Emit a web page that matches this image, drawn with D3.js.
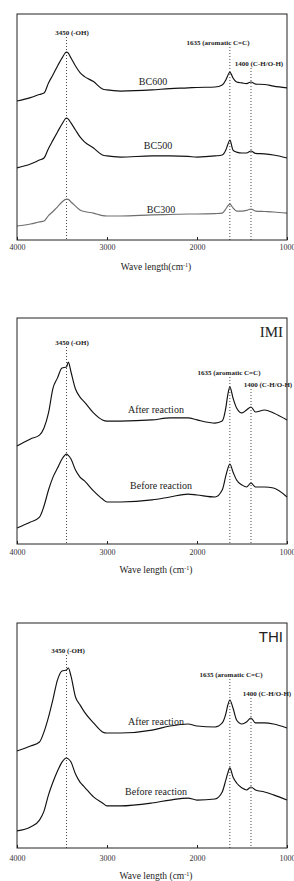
<!DOCTYPE html>
<html>
<head>
<meta charset="utf-8">
<script src="https://cdn.jsdelivr.net/npm/d3@7"></script>
<style>
  body { margin: 0; background: #fff; }
  svg { display: block; }
</style>
</head>
<body>
<div id="chart"></div>
<script>
// Data (relative intensity, a.u.)
const wavenumbers = [4000, 3850, 3750, 3700, 3650, 3600, 3550, 3500, 3450, 3430, 3400, 3350, 3300, 3250, 3150, 3050, 3000, 2850, 2500, 2300, 2100, 2000, 1800, 1720, 1680, 1660, 1635, 1600, 1560, 1500, 1450, 1400, 1350, 1250, 1150, 1000];

const bc600 = [61.5, 63.0, 64.4, 65.0, 69.5, 73.1, 77.0, 80.5, 83.2, 82.7, 80.5, 77.0, 74.1, 72.3, 70.1, 66.8, 66.4, 65.9, 66.4, 67.0, 67.3, 67.5, 67.7, 68.6, 70.8, 72.6, 74.3, 71.7, 69.9, 69.5, 69.2, 69.9, 69.0, 68.8, 68.1, 67.3];
const bc500 = [31.9, 33.6, 35.4, 36.3, 40.5, 44.2, 47.8, 51.3, 54.0, 53.5, 51.8, 48.7, 45.6, 43.4, 40.7, 37.6, 37.2, 36.7, 37.2, 37.2, 37.0, 36.7, 37.2, 37.6, 39.8, 42.0, 44.2, 39.8, 38.9, 38.5, 38.5, 39.4, 38.3, 38.1, 37.6, 36.3];
const bc300 = [6.2, 7.1, 8.0, 8.4, 10.8, 12.6, 14.7, 16.8, 18.1, 18.0, 16.8, 15.0, 13.3, 12.6, 11.9, 10.8, 10.6, 10.6, 11.1, 11.3, 11.5, 11.5, 11.7, 11.9, 13.7, 15.0, 15.9, 14.2, 12.8, 12.8, 13.1, 13.7, 12.8, 12.6, 12.4, 11.9];

const imiAfter  = [43.4, 46.5, 48.2, 51.3, 58.0, 69.0, 73.5, 77.9, 78.3, 80.5, 76.1, 68.6, 65.0, 62.8, 58.0, 54.9, 54.4, 54.4, 54.9, 55.8, 55.8, 54.9, 53.5, 54.4, 60.2, 65.5, 69.5, 64.6, 60.2, 58.0, 59.3, 60.6, 58.4, 59.3, 58.0, 54.9];
const imiBefore = [7.1, 9.7, 11.9, 16.8, 23.9, 29.6, 33.6, 37.6, 39.8, 39.2, 37.6, 32.7, 29.6, 27.9, 23.5, 19.9, 18.6, 18.6, 19.5, 20.8, 22.1, 21.7, 20.8, 23.9, 30.1, 33.0, 35.4, 31.9, 28.3, 26.1, 25.2, 27.0, 25.2, 25.2, 24.8, 20.8];

const thiAfter  = [43.1, 45.3, 47.1, 51.6, 58.2, 66.2, 74.7, 78.7, 79.1, 80.0, 76.4, 67.1, 63.6, 60.4, 55.6, 51.6, 51.1, 51.1, 52.4, 54.2, 55.1, 54.2, 53.8, 55.6, 59.6, 63.1, 65.8, 62.2, 56.9, 55.1, 56.0, 57.8, 55.6, 55.6, 55.1, 53.3];
const thiBefore = [7.6, 9.3, 12.4, 16.4, 23.6, 29.3, 34.2, 38.2, 40.0, 39.6, 38.2, 32.9, 29.3, 27.1, 22.7, 20.0, 18.7, 18.7, 20.0, 21.3, 22.2, 21.3, 21.8, 24.9, 30.2, 33.0, 35.6, 31.6, 28.9, 26.7, 25.8, 27.1, 25.8, 24.9, 23.6, 21.3];

const peaks = [3450, 1635, 1400];
const peakNames = ["3450 (-OH)", "1635 (aromatic C=C)", "1400 (C-H/O-H)"];
const xTicks = [4000, 3000, 2000, 1000];

// Layout
const W = 294, H = 881;
const left = 17, right = 287;

const panels = [
  {
    top: 14, bottom: 240, title: null, titleFont: null,
    xTitle: "Wave length(cm", xTitleY: 270, tickY: 250,
    series: [
      { name: "BC600", values: bc600, color: "#111", lx: 153, ly: 85 },
      { name: "BC500", values: bc500, color: "#111", lx: 158, ly: 149 },
      { name: "BC300", values: bc300, color: "#6e6e6e", lx: 161, ly: 213 }
    ],
    peakLabels: [[72, 35], [218, 45], [259, 66]],
    peakLineTop: [37, 47, 68]
  },
  {
    top: 318, bottom: 544, title: "IMI", titleFont: "'Liberation Serif', serif", titleY: 337,
    xTitle: "Wave length (cm", xTitleY: 573, tickY: 555,
    series: [
      { name: "After reaction", values: imiAfter, color: "#111", lx: 156, ly: 413 },
      { name: "Before reaction", values: imiBefore, color: "#111", lx: 161, ly: 489 }
    ],
    peakLabels: [[72, 345], [229, 375], [268, 387]],
    peakLineTop: [347, 377, 389]
  },
  {
    top: 623, bottom: 848, title: "THI", titleFont: "'Liberation Sans', sans-serif", titleY: 642,
    xTitle: "Wave length (cm", xTitleY: 879, tickY: 861,
    series: [
      { name: "After reaction", values: thiAfter, color: "#111", lx: 156, ly: 725 },
      { name: "Before reaction", values: thiBefore, color: "#111", lx: 156, ly: 795 }
    ],
    peakLabels: [[68, 653], [231, 677], [267, 696]],
    peakLineTop: [655, 679, 698]
  }
];

const serif = "'Liberation Serif', 'Times New Roman', serif";

const svg = d3.select("#chart").append("svg")
  .attr("width", W)
  .attr("height", H);

svg.append("rect").attr("width", W).attr("height", H).attr("fill", "#fff");

const x = d3.scaleLinear().domain([4000, 1000]).range([left, right]);

panels.forEach(p => {
  const y = d3.scaleLinear().domain([0, 100]).range([p.bottom, p.top]);
  const g = svg.append("g");

  // dotted peak markers
  peaks.forEach((pk, i) => {
    g.append("line")
      .attr("x1", x(pk)).attr("x2", x(pk))
      .attr("y1", p.peakLineTop[i]).attr("y2", p.bottom)
      .attr("stroke", "#333")
      .attr("stroke-width", 0.9)
      .attr("stroke-dasharray", "1,2");

    g.append("text")
      .attr("x", p.peakLabels[i][0])
      .attr("y", p.peakLabels[i][1])
      .attr("text-anchor", "middle")
      .style("font-family", serif)
      .style("font-size", "7px")
      .style("font-weight", "bold")
      .style("fill", "#222")
      .text(peakNames[i]);
  });

  // spectra
  const line = d3.line()
    .x(d => x(d[0]))
    .y(d => y(d[1]))
    .curve(d3.curveMonotoneX);

  p.series.forEach(s => {
    const pts = wavenumbers.map((w, i) => [w, s.values[i]]);
    g.append("path")
      .datum(pts)
      .attr("fill", "none")
      .attr("stroke", s.color)
      .attr("stroke-width", 1.15)
      .attr("stroke-linejoin", "round")
      .attr("d", line);

    g.append("text")
      .attr("x", s.lx)
      .attr("y", s.ly)
      .attr("text-anchor", "middle")
      .style("font-family", serif)
      .style("font-size", "10px")
      .style("fill", "#222")
      .text(s.name);
  });

  // frame
  g.append("rect")
    .attr("x", left).attr("y", p.top)
    .attr("width", right - left).attr("height", p.bottom - p.top)
    .attr("fill", "none")
    .attr("stroke", "#222")
    .attr("stroke-width", 1);

  // x axis: inward ticks, labels below
  const axis = d3.axisBottom(x)
    .tickValues(xTicks)
    .tickSizeInner(-3)
    .tickSizeOuter(0)
    .tickFormat(d3.format("d"));

  const ax = g.append("g")
    .attr("transform", `translate(0,${p.bottom})`)
    .call(axis);
  ax.select(".domain").remove();
  ax.selectAll(".tick line").attr("stroke", "#222");
  ax.selectAll(".tick text")
    .attr("y", p.tickY - p.bottom).attr("dy", null)
    .style("font-family", serif)
    .style("font-size", "8px")
    .style("fill", "#333");

  // axis title with superscript
  const t = g.append("text")
    .attr("x", 156)
    .attr("y", p.xTitleY)
    .attr("text-anchor", "middle")
    .style("font-family", serif)
    .style("font-size", "9.5px")
    .style("fill", "#222");
  t.append("tspan").text(p.xTitle);
  t.append("tspan").attr("dy", -3.5).style("font-size", "6px").text("-1");
  t.append("tspan").attr("dy", 3.5).text(")");

  // panel title
  if (p.title) {
    g.append("text")
      .attr("x", 283)
      .attr("y", p.titleY)
      .attr("text-anchor", "end")
      .style("font-family", p.titleFont)
      .style("font-size", "15px")
      .style("fill", "#222")
      .text(p.title);
  }
});
</script>
</body>
</html>
